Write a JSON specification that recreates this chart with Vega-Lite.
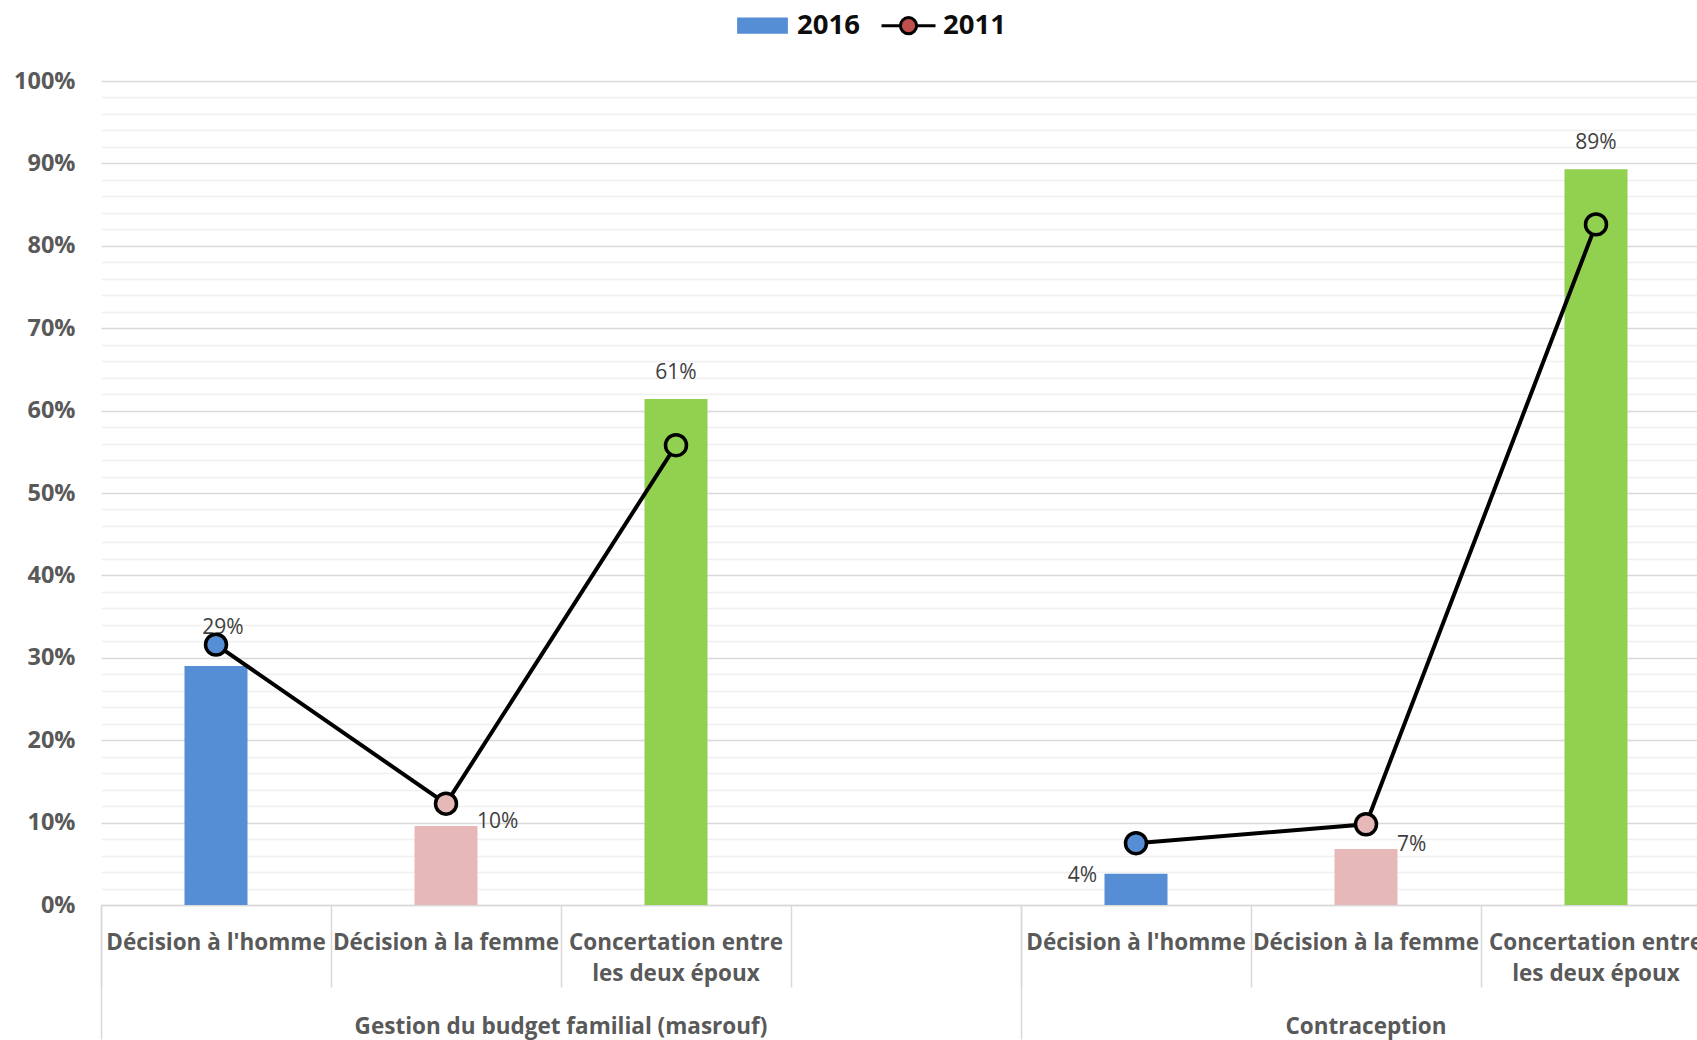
{
  "$schema": "https://vega.github.io/schema/vega-lite/v6.json",
  "autosize": {"type": "none"},
  "padding": {"left": 101, "top": 81, "right": 0, "bottom": 135},
  "width": 1596,
  "height": 824,
  "background": "white",
  "config": {
    "view": {"stroke": null},
    "font": "Open Sans"
  },
  "data": {
    "values": [
      {"slot": "Gestion du budget familial (masrouf)|Décision à l'homme", "group": "Gestion du budget familial (masrouf)", "category": "Décision à l'homme", "v2016": 0.290, "v2011": 0.316},
      {"slot": "Gestion du budget familial (masrouf)|Décision à la femme", "group": "Gestion du budget familial (masrouf)", "category": "Décision à la femme", "v2016": 0.096, "v2011": 0.123},
      {"slot": "Gestion du budget familial (masrouf)|Concertation entre les deux époux", "group": "Gestion du budget familial (masrouf)", "category": "Concertation entre les deux époux", "v2016": 0.614, "v2011": 0.558},
      {"slot": "Contraception|Décision à l'homme", "group": "Contraception", "category": "Décision à l'homme", "v2016": 0.038, "v2011": 0.075},
      {"slot": "Contraception|Décision à la femme", "group": "Contraception", "category": "Décision à la femme", "v2016": 0.068, "v2011": 0.098},
      {"slot": "Contraception|Concertation entre les deux époux", "group": "Contraception", "category": "Concertation entre les deux époux", "v2016": 0.893, "v2011": 0.826}
    ]
  },
  "resolve": {"axis": {"x": "independent", "y": "independent"}},
  "encoding": {
    "x": {
      "field": "slot",
      "type": "nominal",
      "sort": null,
      "scale": {
        "type": "band",
        "domain": [
          "Gestion du budget familial (masrouf)|Décision à l'homme",
          "Gestion du budget familial (masrouf)|Décision à la femme",
          "Gestion du budget familial (masrouf)|Concertation entre les deux époux",
          "Gestion du budget familial (masrouf)|",
          "Contraception|Décision à l'homme",
          "Contraception|Décision à la femme",
          "Contraception|Concertation entre les deux époux"
        ],
        "range": [0, 1610],
        "paddingInner": 0,
        "paddingOuter": 0
      }
    }
  },
  "layer": [
    {
      "mark": {"type": "bar", "width": {"band": 0.274}},
      "encoding": {
        "x": {
          "field": "slot", "type": "nominal",
          "axis": {
            "orient": "bottom",
            "title": null,
            "bandPosition": 0,
            "labelAngle": 0,
            "labelAlign": "center",
            "labelBaseline": "top",
            "labelOffset": 0,
            "labelPadding": -56,
            "labelExpr": "split(replace(split(datum.label, '|')[1], 'entre ', 'entre|'), '|')",
            "labelFont": "Open Sans",
            "labelFontSize": 22.5,
            "labelFontWeight": "bold",
            "labelColor": "#595959",
            "labelLineHeight": 31,
            "labelLimit": 400,
            "labelOverlap": false,
            "labelBound": false,
            "labelFlush": false,
            "ticks": true,
            "tickSize": 82,
            "tickColor": "#d9d9d9",
            "tickWidth": 1.5,
            "domain": true,
            "domainColor": "#d9d9d9",
            "domainWidth": 1.5,
            "grid": false
          }
        },
        "y": {
          "field": "v2016", "type": "quantitative",
          "scale": {"domain": [0, 1], "nice": false, "zero": true},
          "axis": {
            "orient": "left",
            "title": null,
            "values": [0, 0.02, 0.04, 0.06, 0.08, 0.1, 0.12, 0.14, 0.16, 0.18, 0.2, 0.22, 0.24, 0.26, 0.28, 0.3, 0.32, 0.34, 0.36, 0.38, 0.4, 0.42, 0.44, 0.46, 0.48, 0.5, 0.52, 0.54, 0.56, 0.58, 0.6, 0.62, 0.64, 0.66, 0.68, 0.7, 0.72, 0.74, 0.76, 0.78, 0.8, 0.82, 0.84, 0.86, 0.88, 0.9, 0.92, 0.94, 0.96, 0.98, 1.0],
            "labelExpr": "round(datum.value * 100) % 10 == 0 ? format(datum.value, '.0%') : ''",
            "labelFont": "Open Sans",
            "labelFontSize": 23.5,
            "labelFontWeight": "bold",
            "labelColor": "#595959",
            "labelPadding": 26,
            "labelOverlap": false,
            "labelBound": false,
            "labelFlush": false,
            "ticks": false,
            "domain": false,
            "grid": true,
            "gridColor": {"condition": {"test": "round(datum.value * 100) % 10 == 0", "value": "#d9d9d9"}, "value": "#f0f0f0"},
            "gridWidth": {"condition": {"test": "round(datum.value * 100) % 10 == 0", "value": 1.6}, "value": 1.3},
            "zindex": 0
          }
        },
        "color": {
          "field": "category", "type": "nominal",
          "scale": {
            "domain": ["Décision à l'homme", "Décision à la femme", "Concertation entre les deux époux"],
            "range": ["#558ed5", "#e6b8b7", "#92d050"]
          },
          "legend": null
        }
      }
    },
    {
      "transform": [{"filter": {"field": "slot", "oneOf": ["Gestion du budget familial (masrouf)|Concertation entre les deux époux", "Contraception|Concertation entre les deux époux"]}}],
      "mark": {"type": "text", "baseline": "middle", "align": "center", "dy": -26, "fontSize": 21, "font": "Open Sans", "color": "#404040"},
      "encoding": {
        "x": {"field": "slot", "type": "nominal", "axis": null},
        "y": {"field": "v2016", "type": "quantitative", "axis": null},
        "text": {"field": "v2016", "type": "quantitative", "format": ".0%"}
      }
    },
    {
      "transform": [{"filter": {"field": "slot", "oneOf": ["Gestion du budget familial (masrouf)|Décision à l'homme"]}}],
      "mark": {"type": "text", "baseline": "middle", "align": "center", "dx": 7, "dy": -38, "fontSize": 21, "font": "Open Sans", "color": "#404040"},
      "encoding": {
        "x": {"field": "slot", "type": "nominal", "axis": null},
        "y": {"field": "v2016", "type": "quantitative", "axis": null},
        "text": {"field": "v2016", "type": "quantitative", "format": ".0%"}
      }
    },
    {
      "transform": [{"filter": {"field": "slot", "oneOf": ["Gestion du budget familial (masrouf)|Décision à la femme", "Contraception|Décision à la femme"]}}],
      "mark": {"type": "text", "baseline": "middle", "align": "left", "dx": 31, "dy": -4, "fontSize": 21, "font": "Open Sans", "color": "#404040"},
      "encoding": {
        "x": {"field": "slot", "type": "nominal", "axis": null},
        "y": {"field": "v2016", "type": "quantitative", "axis": null},
        "text": {"field": "v2016", "type": "quantitative", "format": ".0%"}
      }
    },
    {
      "transform": [{"filter": {"field": "slot", "oneOf": ["Contraception|Décision à l'homme"]}}],
      "mark": {"type": "text", "baseline": "middle", "align": "right", "dx": -39, "dy": 2, "fontSize": 21, "font": "Open Sans", "color": "#404040"},
      "encoding": {
        "x": {"field": "slot", "type": "nominal", "axis": null},
        "y": {"field": "v2016", "type": "quantitative", "axis": null},
        "text": {"field": "v2016", "type": "quantitative", "format": ".0%"}
      }
    },
    {
      "mark": {"type": "line", "color": "#000000", "strokeWidth": 4},
      "encoding": {
        "x": {
          "field": "slot", "type": "nominal",
          "axis": {
            "orient": "bottom",
            "title": null,
            "values": ["Gestion du budget familial (masrouf)|Décision à l'homme", "Contraception|Décision à l'homme"],
            "bandPosition": 0,
            "labelAngle": 0,
            "labelAlign": "center",
            "labelBaseline": "top",
            "labelOffset": {"condition": {"test": "datum.value < 'D'", "value": 230}, "value": 345},
            "labelPadding": -24,
            "labelExpr": "split(datum.label, '|')[0]",
            "labelFont": "Open Sans",
            "labelFontSize": 22.5,
            "labelFontWeight": "bold",
            "labelColor": "#595959",
            "labelLimit": 600,
            "labelOverlap": false,
            "labelBound": false,
            "labelFlush": false,
            "ticks": true,
            "tickSize": 134,
            "tickColor": "#d9d9d9",
            "tickWidth": 1.5,
            "domain": false,
            "grid": false
          }
        },
        "y": {"field": "v2011", "type": "quantitative", "axis": null},
        "detail": {"field": "group", "type": "nominal"}
      }
    },
    {
      "mark": {"type": "point", "filled": true, "size": 440, "stroke": "#000000", "strokeWidth": 3.5, "opacity": 1},
      "encoding": {
        "x": {"field": "slot", "type": "nominal", "axis": null},
        "y": {"field": "v2011", "type": "quantitative", "axis": null},
        "color": {"field": "category", "type": "nominal", "legend": null}
      }
    },
    {
      "mark": {"type": "point", "filled": true, "opacity": 0},
      "encoding": {
        "x": {"field": "slot", "type": "nominal", "axis": null},
        "y": {"field": "v2011", "type": "quantitative", "axis": null},
        "fill": {
          "datum": "2011",
          "type": "nominal",
          "scale": {"domain": ["2016", "2011"], "range": ["#558ed5", "#c0504d"]},
          "legend": {"title": null}
        },
        "stroke": {
          "datum": "2011",
          "type": "nominal",
          "scale": {"domain": ["2016", "2011"], "range": ["transparent", "#000000"]},
          "legend": {"title": null}
        },
        "shape": {
          "datum": "2011",
          "type": "nominal",
          "scale": {
            "domain": ["2016", "2011"],
            "range": ["M-0.94,-0.3H0.94V0.3H-0.94Z", "M-1,0H-0.3M0.3,0H1M0.3,0A0.3,0.3 0 1,1 -0.3,0A0.3,0.3 0 1,1 0.3,0Z"]
          },
          "legend": {
            "orient": "none",
            "legendX": 633,
            "legendY": -84,
            "direction": "horizontal",
            "title": null,
            "symbolSize": 2916,
            "symbolOpacity": 1,
            "symbolStrokeWidth": 3,
            "labelFont": "Open Sans",
            "labelFontSize": 27.5,
            "labelFontWeight": "bold",
            "labelColor": "#0d0d0d",
            "labelOffset": 6,
            "columnPadding": 15
          }
        }
      }
    }
  ]
}
